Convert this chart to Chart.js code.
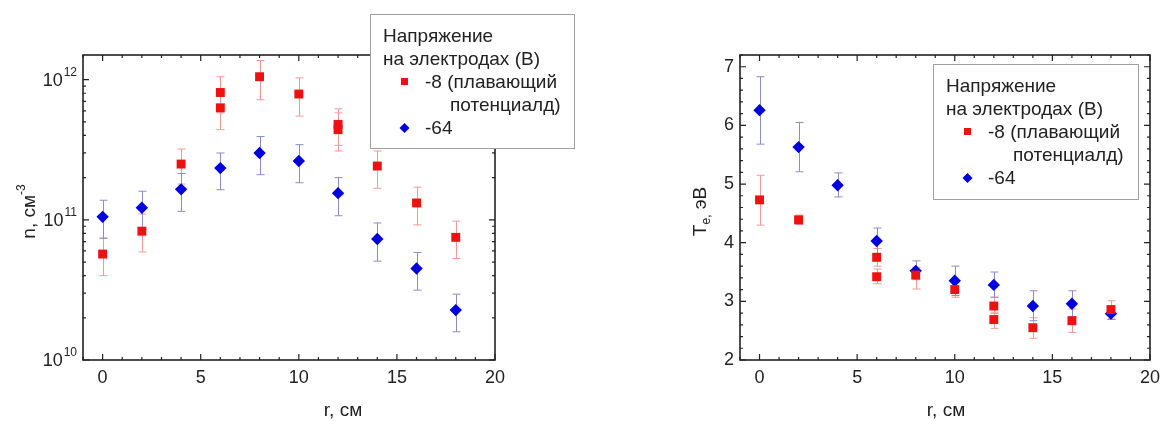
<!DOCTYPE html>
<html>
<head>
<meta charset="utf-8">
<script src="https://cdn.jsdelivr.net/npm/chart.js@4.4.0/dist/chart.umd.min.js"></script>
<style>
  body { margin: 0; background: #fff; }
  #wrap { position: relative; width: 1167px; height: 421px; }
  #chartN { position: absolute; left: 0; top: 0; }
  #chartT { position: absolute; left: 583px; top: 0; }
</style>
</head>
<body>
<div id="wrap">
  <canvas id="chartN" width="583" height="421"></canvas>
  <canvas id="chartT" width="584" height="421"></canvas>
</div>
<script>
// DATA - density n (cm^-3)
const rRedN = [0, 2, 4, 6, 6, 8, 10, 12, 12, 14, 16, 18];
const nRed = [5.7e10, 8.3e10, 2.5e11, 8.1e11, 6.3e11, 1.05e12, 7.9e11, 4.8e11, 4.4e11, 2.42e11, 1.32e11, 7.5e10];
const nRedLo = [4.0e10, 5.9e10, 1.8e11, 5.8e11, 4.4e11, 7.2e11, 5.5e11, 3.4e11, 3.1e11, 1.68e11, 9.2e10, 5.3e10];
const nRedHi = [7.4e10, 1.1e11, 3.2e11, 1.05e12, 8.2e11, 1.37e12, 1.03e12, 6.2e11, 5.8e11, 3.1e11, 1.71e11, 9.8e10];

const rBlue = [0, 2, 4, 6, 8, 10, 12, 14, 16, 18];
const nBlue = [1.05e11, 1.22e11, 1.65e11, 2.34e11, 3.0e11, 2.63e11, 1.55e11, 7.3e10, 4.5e10, 2.27e10];
const nBlueLo = [7.4e10, 8.5e10, 1.15e11, 1.64e11, 2.1e11, 1.84e11, 1.07e11, 5.07e10, 3.15e10, 1.59e10];
const nBlueHi = [1.38e11, 1.6e11, 2.14e11, 3.0e11, 3.93e11, 3.44e11, 2.0e11, 9.5e10, 5.85e10, 2.95e10];

// DATA - electron temperature Te (eV)
const rRedT = [0, 2, 6, 6, 8, 10, 12, 12, 14, 16, 18];
const teRed = [4.73, 4.39, 3.75, 3.42, 3.45, 3.20, 2.92, 2.69, 2.55, 2.67, 2.86];
const teRedLo = [4.30, 4.31, 3.60, 3.30, 3.21, 3.07, 2.80, 2.54, 2.37, 2.47, 2.70];
const teRedHi = [5.15, 4.47, 3.90, 3.55, 3.58, 3.32, 3.07, 2.80, 2.72, 2.87, 3.01];

const teBlue = [6.26, 5.63, 4.98, 4.03, 3.52, 3.35, 3.28, 2.92, 2.96, 2.79];
const teBlueLo = [5.68, 5.21, 4.78, 3.82, 3.37, 3.10, 3.07, 2.67, 2.74, 2.69];
const teBlueHi = [6.83, 6.05, 5.19, 4.25, 3.69, 3.60, 3.50, 3.18, 3.18, 2.89];

// ticks & texts
const xTicks = [0, 5, 10, 15, 20];
const nTicks = [1e10, 1e11, 1e12];
const teTicks = [2, 3, 4, 5, 6, 7];
const legendTitle = ['Напряжение', 'на электродах (В)'];
const legendRed = ['-8 (плавающий', 'потенциалд)'];
const legendBlue = '-64';
const xTitle = 'r, см';

const RED = '#ee1111';
const BLUE = '#0000dd';
const FONT = "'Liberation Sans', Arial, sans-serif";
const INK = '#222';

function pts(xs, ys) {
  return xs.map((x, i) => ({x: x, y: ys[i]}));
}

// error bars under the points
const errorBars = {
  id: 'errorBars',
  beforeDatasetsDraw(chart) {
    const {ctx, scales: {x, y}} = chart;
    ctx.save();
    ctx.lineWidth = 1;
    chart.data.datasets.forEach(ds => {
      ctx.strokeStyle = ds.errColor;
      ds.data.forEach((p, i) => {
        const px = Math.round(x.getPixelForValue(p.x)) + 0.5;
        const yl = y.getPixelForValue(ds.errLo[i]);
        const yh = y.getPixelForValue(ds.errHi[i]);
        ctx.beginPath();
        ctx.moveTo(px, yl); ctx.lineTo(px, yh);
        ctx.moveTo(px - 4, yl); ctx.lineTo(px + 4, yl);
        ctx.moveTo(px - 4, yh); ctx.lineTo(px + 4, yh);
        ctx.stroke();
      });
    });
    ctx.restore();
  }
};

// frame with inward ticks on all four sides
const frame = {
  id: 'frame',
  beforeDatasetsDraw(chart, args, opts) {
    const {ctx, chartArea: a, scales: {x, y}} = chart;
    ctx.save();
    ctx.strokeStyle = INK;
    ctx.lineWidth = 1.2;
    ctx.beginPath();
    for (let v = -1; v <= 20; v++) {
      const px = x.getPixelForValue(v);
      const len = v % 5 === 0 ? 6 : 3;
      ctx.moveTo(px, a.bottom); ctx.lineTo(px, a.bottom - len);
      ctx.moveTo(px, a.top); ctx.lineTo(px, a.top + len);
    }
    opts.yMarks(y).forEach(m => {
      const py = y.getPixelForValue(m[0]);
      ctx.moveTo(a.left, py); ctx.lineTo(a.left + m[1], py);
      ctx.moveTo(a.right, py); ctx.lineTo(a.right - m[1], py);
    });
    ctx.stroke();
    ctx.lineWidth = 1.6;
    ctx.strokeRect(a.left, a.top, a.right - a.left, a.bottom - a.top);
    ctx.restore();
  }
};

function logMarks(y) {
  const out = [];
  for (let e = 10; e <= 12; e++) {
    for (let m = 1; m <= 9; m++) {
      const v = m * Math.pow(10, e);
      if (v >= y.min && v <= y.max) out.push([v, m === 1 ? 6 : 3]);
    }
  }
  return out;
}

function linMarks(y) {
  const out = [];
  for (let k = 0; k <= 26; k++) out.push([2 + k * 0.2, k % 5 === 0 ? 6 : 3]);
  return out;
}

// 10^n labels and axis titles with super/subscripts
const axisText = {
  id: 'axisText',
  afterDraw(chart, args, opts) {
    const {ctx, chartArea: a, scales: {y}} = chart;
    ctx.save();
    ctx.fillStyle = INK;
    ctx.textBaseline = 'middle';
    if (opts.log) {
      nTicks.forEach(v => {
        const py = y.getPixelForValue(v);
        const exp = String(Math.round(Math.log10(v)));
        ctx.font = '12px ' + FONT;
        ctx.textAlign = 'right';
        const w = ctx.measureText(exp).width;
        ctx.fillText(exp, a.left - 6, py - 7);
        ctx.font = '18px ' + FONT;
        ctx.fillText('10', a.left - 7 - w, py + 1);
      });
    }
    // x title
    ctx.font = '19px ' + FONT;
    ctx.textAlign = 'center';
    ctx.fillText(xTitle, opts.xTitleX, 411);
    // rotated y title
    const t = opts.title;
    ctx.translate(t.x, (a.top + a.bottom) / 2 + 4);
    ctx.rotate(-Math.PI / 2);
    ctx.textAlign = 'left';
    let total = 0;
    t.parts.forEach(p => { ctx.font = p.size + 'px ' + FONT; total += ctx.measureText(p.text).width; });
    let cx = -total / 2;
    t.parts.forEach(p => {
      ctx.font = p.size + 'px ' + FONT;
      ctx.fillText(p.text, cx, p.dy);
      cx += ctx.measureText(p.text).width;
    });
    ctx.restore();
  }
};

// legend box drawn on top of the frame
const legendBox = {
  id: 'legendBox',
  afterDraw(chart, args, opts) {
    const {ctx} = chart;
    const bx = opts.x, by = opts.y;
    ctx.save();
    ctx.fillStyle = '#fff';
    ctx.fillRect(bx, by, opts.w, opts.h);
    ctx.strokeStyle = '#a0a0a0';
    ctx.lineWidth = 1;
    ctx.strokeRect(bx + 0.5, by + 0.5, opts.w, opts.h);
    ctx.fillStyle = INK;
    ctx.font = '19px ' + FONT;
    ctx.textBaseline = 'alphabetic';
    ctx.textAlign = 'left';
    ctx.fillText(legendTitle[0], bx + 13, by + 28);
    ctx.fillText(legendTitle[1], bx + 13, by + 51);
    ctx.fillText(legendRed[0], bx + 55, by + 74);
    ctx.fillText(legendRed[1], bx + 80, by + 97);
    ctx.fillText(legendBlue, bx + 55, by + 120);
    // markers
    ctx.fillStyle = RED;
    ctx.fillRect(bx + 31, by + 64, 7, 7);
    ctx.fillStyle = BLUE;
    const dx = bx + 34.5, dy = by + 114;
    ctx.beginPath();
    ctx.moveTo(dx, dy - 5); ctx.lineTo(dx + 5, dy); ctx.lineTo(dx, dy + 5); ctx.lineTo(dx - 5, dy);
    ctx.closePath();
    ctx.fill();
    ctx.restore();
  }
};

function xScale() {
  return {
    type: 'linear',
    min: -1,
    max: 20,
    afterBuildTicks: s => { s.ticks = xTicks.map(v => ({value: v})); },
    afterFit: s => { s.height = 61; },
    grid: {display: false, drawTicks: false},
    border: {display: false},
    ticks: {color: INK, padding: 7, font: {family: FONT, size: 18}}
  };
}

function redSet(xs, ys, lo, hi) {
  return {
    label: legendRed.join(' '),
    data: pts(xs, ys),
    errLo: lo, errHi: hi, errColor: '#f09a9a',
    pointStyle: 'rect', pointRadius: 6.3, pointHoverRadius: 6.3,
    backgroundColor: RED, borderColor: RED, borderWidth: 0, showLine: false
  };
}

function blueSet(xs, ys, lo, hi) {
  return {
    label: legendBlue,
    data: pts(xs, ys),
    errLo: lo, errHi: hi, errColor: '#8c8cc8',
    pointStyle: 'rectRot', pointRadius: 6.2, pointHoverRadius: 6.2,
    backgroundColor: BLUE, borderColor: BLUE, borderWidth: 0, showLine: false
  };
}

new Chart(document.getElementById('chartN'), {
  type: 'scatter',
  data: {
    datasets: [
      redSet(rRedN, nRed, nRedLo, nRedHi),
      blueSet(rBlue, nBlue, nBlueLo, nBlueHi)
    ]
  },
  options: {
    responsive: false,
    animation: false,
    layout: {padding: {left: 0, right: 88, top: 55, bottom: 0}},
    scales: {
      x: xScale(),
      y: {
        type: 'logarithmic',
        min: 1e10,
        max: 1.5e12,
        afterFit: s => { s.width = 83; },
        grid: {display: false, drawTicks: false},
        border: {display: false},
        ticks: {display: false}
      }
    },
    plugins: {
      legend: {display: false},
      tooltip: {enabled: false},
      frame: {yMarks: logMarks},
      axisText: {log: true, xTitleX: 343, title: {x: 30, parts: [
        {text: 'n, см', size: 19, dy: 0},
        {text: '-3', size: 12, dy: -8}
      ]}},
      legendBox: {x: 370, y: 14, w: 204, h: 134}
    }
  },
  plugins: [errorBars, frame, axisText, legendBox]
});

new Chart(document.getElementById('chartT'), {
  type: 'scatter',
  data: {
    datasets: [
      redSet(rRedT, teRed, teRedLo, teRedHi),
      blueSet(rBlue, teBlue, teBlueLo, teBlueHi)
    ]
  },
  options: {
    responsive: false,
    animation: false,
    layout: {padding: {left: 0, right: 14, top: 55, bottom: 0}},
    scales: {
      x: xScale(),
      y: {
        type: 'linear',
        min: 2,
        max: 7.2,
        afterBuildTicks: s => { s.ticks = teTicks.map(v => ({value: v})); },
        afterFit: s => { s.width = 157; },
        grid: {display: false, drawTicks: false},
        border: {display: false},
        ticks: {color: INK, padding: 6, font: {family: FONT, size: 18}}
      }
    },
    plugins: {
      legend: {display: false},
      tooltip: {enabled: false},
      frame: {yMarks: linMarks},
      axisText: {log: false, xTitleX: 363, title: {x: 118, parts: [
        {text: 'T', size: 19, dy: 0},
        {text: 'e,', size: 12, dy: 6},
        {text: ' эВ', size: 19, dy: 0}
      ]}},
      legendBox: {x: 350, y: 64, w: 205, h: 135}
    }
  },
  plugins: [errorBars, frame, axisText, legendBox]
});
</script>
</body>
</html>
